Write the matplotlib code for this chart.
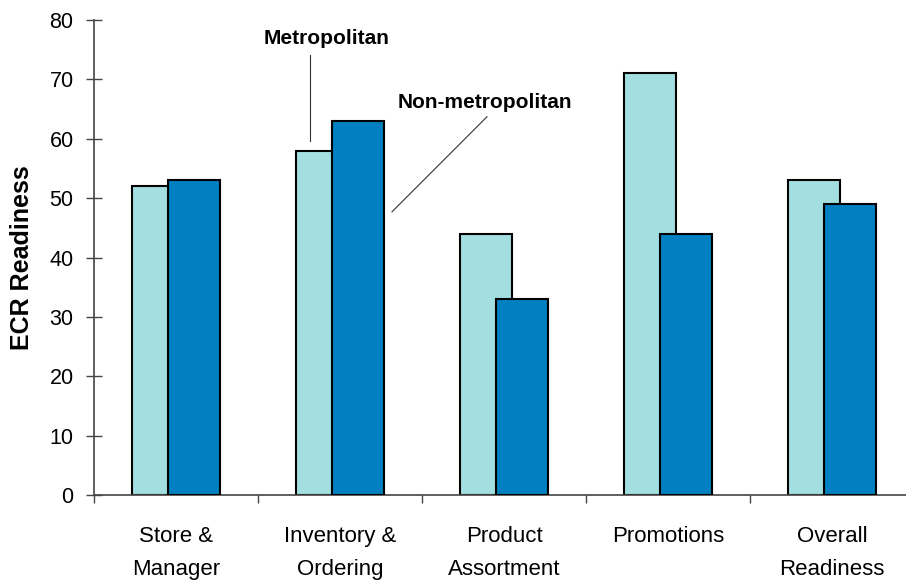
import numpy as np
import matplotlib.pyplot as plt
from matplotlib.ticker import FixedLocator, NullFormatter

plt.rcParams["font.family"] = ["Liberation Sans", "DejaVu Sans"]

categories = ["Store &\nManager", "Inventory &\nOrdering", "Product\nAssortment",
              "Promotions", "Overall\nReadiness"]
metro = [52, 58, 44, 71, 53]
non_metro = [53, 63, 33, 44, 49]
y_ticks = [0, 10, 20, 30, 40, 50, 60, 70, 80]

light = "#a3dfe0"
dark = "#0080c0"

fig = plt.figure(figsize=(9.06, 5.80), dpi=100)
# axes runs a little past the right edge, like the original
ax = fig.add_axes([94 / 906, 85 / 580, 820 / 906, 475 / 580])

x = np.arange(len(categories))
w = 0.322
off = 0.11
ax.bar(x - off, metro, w, color=light, edgecolor="black", linewidth=1.5, zorder=2)
ax.bar(x + off, non_metro, w, color=dark, edgecolor="black", linewidth=1.5, zorder=3)

ax.set_xlim(-0.5, len(categories) - 0.5)
ax.set_ylim(0, 80)
ax.set_yticks(y_ticks)
ax.set_xticks(x)
ax.set_xticklabels(categories, fontsize=16, linespacing=1.75)
ax.xaxis.set_minor_locator(FixedLocator(np.arange(len(categories)) - 0.5))
ax.xaxis.set_minor_formatter(NullFormatter())

ax.tick_params(axis="x", which="major", length=0, pad=22)
ax.tick_params(axis="x", which="minor", length=6, direction="out", width=1, color="#444444")
ax.tick_params(axis="y", direction="inout", length=11.5, width=1, color="#444444",
               labelsize=15.5, pad=9)

for s in ("top", "right"):
    ax.spines[s].set_visible(False)
for s in ("left", "bottom"):
    ax.spines[s].set_color("#444444")
    ax.spines[s].set_linewidth(1.2)

ax.set_ylabel("ECR Readiness", fontsize=18, fontweight="bold", labelpad=11)

# series labels with pointer lines
ax.text(0.92, 76.8, "Metropolitan", fontsize=15, fontweight="bold",
        ha="center", va="center")
ax.plot([0.817, 0.817], [74.1, 59.6], color="#333333", lw=0.8, zorder=4)
ax.text(1.884, 66.1, "Non-metropolitan", fontsize=15, fontweight="bold",
        ha="center", va="center")
ax.plot([1.896, 1.317], [63.7, 47.7], color="#333333", lw=0.8, zorder=4)

fig.savefig("out.png", dpi=100)
